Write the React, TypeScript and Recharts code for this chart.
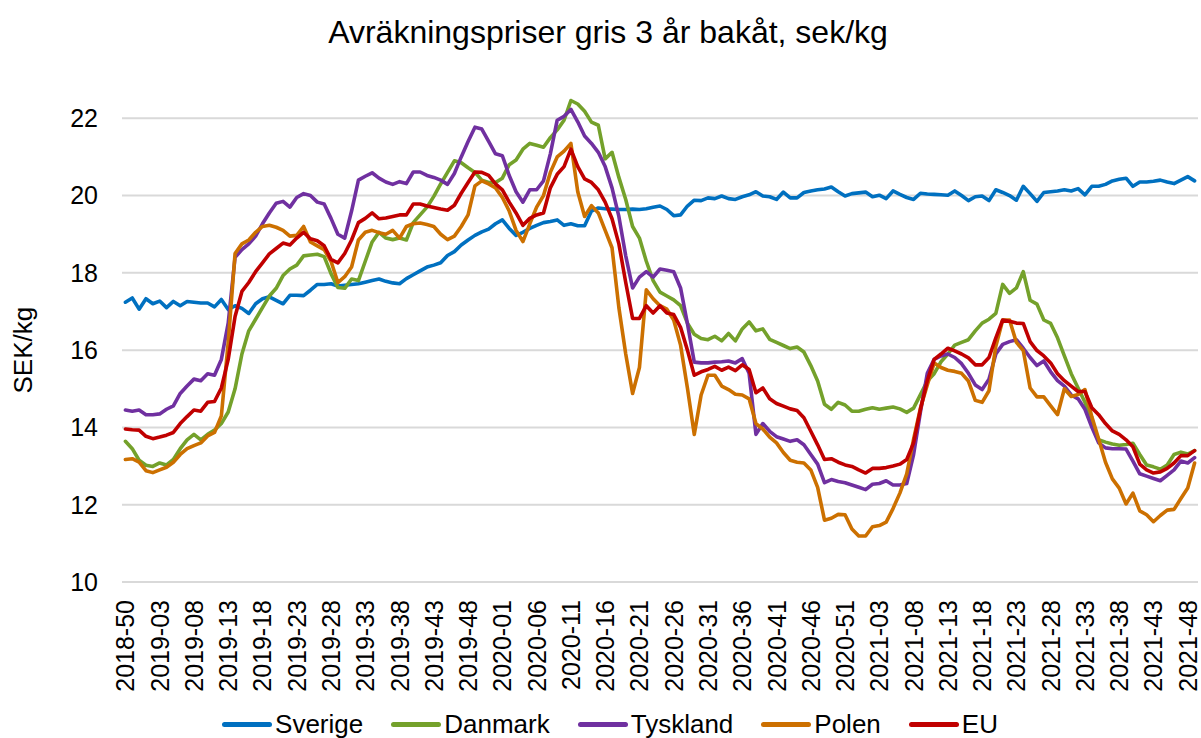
import React from 'react';
import { LineChart, Line, XAxis, YAxis, CartesianGrid } from 'recharts';

// Week categories: [year, first week, last week]
const YEAR_SPANS: number[][] = [
  [2018, 50, 52],
  [2019, 1, 52],
  [2020, 1, 53],
  [2021, 1, 49],
];
const weeks: string[] = YEAR_SPANS.flatMap(([y, a, b]) =>
  Array.from({ length: b - a + 1 }, (_, k) => `${y}-${String(a + k).padStart(2, '0')}`)
);

const yTicks = [10, 12, 14, 16, 18, 20, 22];

const sverige = [
  17.24, 17.35, 17.06, 17.33, 17.2, 17.27, 17.1, 17.26, 17.15, 17.26,
  17.24, 17.22, 17.22, 17.12, 17.31, 17.05, 17.15, 17.08, 16.95, 17.2,
  17.33, 17.38, 17.29, 17.2, 17.42, 17.42, 17.41, 17.55, 17.7, 17.7,
  17.72, 17.66, 17.68, 17.7, 17.72, 17.76, 17.8, 17.84, 17.78, 17.74,
  17.72, 17.85, 17.95, 18.05, 18.15, 18.2, 18.26, 18.45, 18.55, 18.72,
  18.85, 18.97, 19.06, 19.13, 19.27, 19.37, 19.15, 18.97, 19.05, 19.15,
  19.23, 19.3, 19.33, 19.37, 19.23, 19.27, 19.22, 19.22, 19.6, 19.68,
  19.66, 19.65, 19.64, 19.64, 19.65, 19.64, 19.66, 19.7, 19.73, 19.64,
  19.48, 19.5, 19.73, 19.88, 19.87, 19.94, 19.92, 19.99, 19.92, 19.9,
  19.97, 20.02, 20.1, 19.99, 19.97, 19.9, 20.09, 19.94, 19.94, 20.08,
  20.12, 20.15, 20.17, 20.22, 20.1, 19.99, 20.05, 20.07, 20.09, 19.97,
  20.01, 19.92, 20.12, 20.03, 19.95, 19.9, 20.06, 20.04, 20.03, 20.02,
  20.01, 20.12, 20.0, 19.87, 19.97, 19.99, 19.87, 20.15, 20.08, 20.0,
  19.88, 20.24, 20.05, 19.85, 20.08, 20.1, 20.12, 20.15, 20.12, 20.18,
  20.02, 20.24, 20.24, 20.29, 20.38, 20.42, 20.45, 20.24, 20.35, 20.35,
  20.37, 20.4, 20.35, 20.31, 20.4, 20.49, 20.38,
];

const danmark = [
  13.64, 13.45, 13.15, 13.02, 12.99, 13.08, 13.03, 13.17, 13.45, 13.68,
  13.82, 13.68, 13.82, 13.93, 14.1, 14.4, 15.0, 15.9, 16.5, 16.8,
  17.1, 17.4, 17.6, 17.93, 18.1, 18.2, 18.44, 18.46, 18.48, 18.42,
  17.98, 17.62, 17.6, 17.84, 17.8, 18.3, 18.8, 19.05, 18.9, 18.86,
  18.9, 18.85, 19.3, 19.5, 19.7, 19.98, 20.3, 20.6, 20.9, 20.85,
  20.72, 20.6, 20.4, 20.34, 20.34, 20.45, 20.8, 20.92, 21.2, 21.35,
  21.3, 21.25, 21.5, 21.7, 21.95, 22.46, 22.37, 22.18, 21.9, 21.82,
  20.95, 21.12, 20.47, 19.9, 19.2, 18.9, 18.3, 17.8, 17.5, 17.4,
  17.3, 17.15, 16.7, 16.41, 16.3, 16.27, 16.36, 16.24, 16.43, 16.24,
  16.55, 16.73, 16.5, 16.55, 16.28, 16.2, 16.12, 16.04, 16.08, 15.95,
  15.6, 15.2, 14.6, 14.47, 14.65, 14.58, 14.42, 14.42, 14.47, 14.51,
  14.47, 14.5, 14.53, 14.48, 14.39, 14.5, 14.85, 15.2, 15.39, 15.7,
  15.9, 16.13, 16.2, 16.27, 16.5, 16.7, 16.8, 16.95, 17.7, 17.47,
  17.61, 18.03, 17.29, 17.19, 16.78, 16.69, 16.32, 15.85, 15.39, 15.02,
  14.65, 14.1, 13.68, 13.62, 13.57, 13.54, 13.56, 13.59, 13.3, 13.03,
  12.98, 12.92, 13.03, 13.3, 13.36, 13.31, 13.4,
];

const tyskland = [
  14.45, 14.42, 14.45, 14.33, 14.33, 14.35, 14.47, 14.56, 14.88, 15.07,
  15.25, 15.21, 15.39, 15.35, 15.76, 16.7, 18.4, 18.6, 18.75, 18.95,
  19.27, 19.55, 19.8, 19.85, 19.7, 19.95, 20.05, 20.0, 19.83, 19.78,
  19.41, 19.0, 18.9, 19.6, 20.4, 20.5, 20.59, 20.45, 20.35, 20.29,
  20.36, 20.31, 20.61, 20.61, 20.52, 20.47, 20.4, 20.29, 20.57, 21.0,
  21.4, 21.77, 21.72, 21.4, 21.08, 21.03, 20.52, 20.1, 19.83, 20.15,
  20.15, 20.38, 21.08, 21.95, 22.05, 22.23, 21.91, 21.54, 21.35, 21.12,
  20.75, 20.2, 19.46, 18.44, 17.61, 17.89, 18.03, 17.89, 18.1, 18.07,
  18.03, 17.61, 16.69, 15.69, 15.67, 15.67, 15.69, 15.7, 15.72, 15.67,
  15.78, 15.4, 13.82, 14.1, 13.9, 13.76, 13.7, 13.64, 13.68, 13.55,
  13.3, 13.05, 12.57, 12.65, 12.6, 12.57, 12.51, 12.45, 12.39, 12.53,
  12.55, 12.62, 12.51, 12.51, 12.55, 13.3, 14.4, 15.4, 15.76, 15.85,
  15.9, 15.81, 15.65, 15.4, 15.1, 14.98, 15.25, 15.9, 16.15, 16.22,
  16.27, 16.05, 15.81, 15.6, 15.72, 15.44, 15.21, 15.07, 14.84, 14.74,
  14.47, 14.01, 13.6, 13.47, 13.45, 13.45, 13.44, 13.13, 12.8, 12.74,
  12.68, 12.62, 12.76, 12.9, 13.13, 13.08, 13.22,
];

const polen = [
  13.17, 13.19, 13.1, 12.88, 12.83, 12.9, 12.97, 13.1, 13.3, 13.45,
  13.53, 13.6, 13.78, 13.87, 14.3, 16.2, 18.5, 18.75, 18.85, 19.05,
  19.2, 19.23, 19.18, 19.1, 18.95, 18.97, 19.2, 18.8, 18.7, 18.6,
  18.3, 17.75, 17.9, 18.15, 18.85, 19.05, 19.1, 19.04, 19.0, 19.1,
  18.9, 19.2, 19.27, 19.29, 19.25, 19.2, 19.0, 18.86, 18.95, 19.2,
  19.5, 20.25, 20.38, 20.3, 20.2, 19.95, 19.6, 19.1, 18.81, 19.27,
  19.7, 20.0, 20.6, 21.0, 21.15, 21.35, 20.1, 19.46, 19.74, 19.55,
  19.1, 18.65, 17.1, 15.9, 14.88, 15.55, 17.56, 17.33, 17.15, 17.06,
  16.78, 16.13, 15.02, 13.82, 14.84, 15.35, 15.35, 15.07, 14.98, 14.86,
  14.84, 14.74, 14.1, 13.96, 13.75, 13.6, 13.35, 13.15, 13.1, 13.08,
  12.9, 12.45, 11.6, 11.65, 11.75, 11.74, 11.37, 11.19, 11.19, 11.43,
  11.46, 11.55, 11.9, 12.3, 12.8, 13.7, 14.5, 15.1, 15.67, 15.55,
  15.48, 15.45, 15.4, 15.2, 14.7, 14.65, 14.95, 16.1, 16.78, 16.78,
  16.2, 15.99, 15.02, 14.79, 14.79, 14.56, 14.33, 15.0, 14.8, 14.85,
  14.98, 14.28, 13.7, 13.1, 12.67, 12.43, 12.02, 12.3, 11.84, 11.74,
  11.56, 11.72, 11.86, 11.88, 12.16, 12.43, 13.08,
];

const eu = [
  13.96, 13.94, 13.93, 13.77, 13.71, 13.75, 13.8, 13.87, 14.1, 14.28,
  14.45, 14.42, 14.65, 14.67, 15.02, 15.76, 16.87, 17.52, 17.75, 18.03,
  18.26, 18.49, 18.63, 18.77, 18.72, 18.9, 19.05, 18.88, 18.83, 18.7,
  18.35, 18.26, 18.5, 18.85, 19.3, 19.41, 19.55, 19.4, 19.42, 19.46,
  19.5, 19.5, 19.78, 19.78, 19.73, 19.69, 19.65, 19.62, 19.75, 20.06,
  20.34, 20.61, 20.6, 20.52, 20.3, 20.15, 19.83, 19.55, 19.23, 19.41,
  19.5, 19.55, 20.2, 20.55, 20.75, 21.2, 20.75, 20.43, 20.34, 20.15,
  19.83, 19.4, 18.75, 17.75, 16.82, 16.82, 17.15, 16.96, 17.15, 16.96,
  16.92, 16.59, 16.0, 15.35, 15.44, 15.5, 15.58, 15.48, 15.56, 15.47,
  15.62, 15.5, 14.9, 15.02, 14.74, 14.62, 14.55, 14.48, 14.44, 14.25,
  13.9, 13.55, 13.17, 13.19, 13.1, 13.03, 12.99, 12.9, 12.82, 12.94,
  12.94, 12.96, 13.0, 13.05, 13.17, 13.6, 14.47, 15.21, 15.76, 15.9,
  16.05, 15.98, 15.9, 15.8, 15.62, 15.62, 15.81, 16.32, 16.78, 16.75,
  16.7, 16.69, 16.22, 15.99, 15.85, 15.67, 15.39, 15.21, 15.07, 14.93,
  14.93, 14.51, 14.33, 14.1, 13.91, 13.82, 13.68, 13.5, 13.05, 12.9,
  12.82, 12.85, 12.94, 13.08, 13.27, 13.27, 13.4,
];

const seriesNames = ['Sverige', 'Danmark', 'Tyskland', 'Polen', 'EU'];
const seriesValues = [sverige, danmark, tyskland, polen, eu];
const seriesColors = ['#0070C0', '#74A12B', '#7030A0', '#CC7000', '#C00000'];

const data = weeks.map((w, i) => {
  const row: Record<string, string | number> = { week: w };
  seriesNames.forEach((n, s) => {
    row[n] = seriesValues[s][i];
  });
  return row;
});

const FONT = '"Liberation Sans", Arial, Helvetica, sans-serif';
const TEXT = '#000000';

function XTick(props: any) {
  const { x, y, payload } = props;
  return (
    <text
      x={x}
      y={y}
      transform={`rotate(-90 ${x} ${y})`}
      textAnchor="end"
      dominantBaseline="central"
      fontSize={25}
      fontFamily={FONT}
      fill={TEXT}
    >
      {payload.value}
    </text>
  );
}

function YLabel(props: any) {
  const vb = props.viewBox || {};
  const cx = (vb.x || 0) + 23;
  const cy = (vb.y || 0) + (vb.height || 0) * (8 / 14);
  return (
    <text
      x={cx}
      y={cy}
      transform={`rotate(-90 ${cx} ${cy})`}
      textAnchor="middle"
      dominantBaseline="central"
      fontSize={26}
      fontFamily={FONT}
      fill={TEXT}
    >
      SEK/kg
    </text>
  );
}

export default function App() {
  return (
    <div
      style={{
        position: 'absolute',
        left: 0,
        top: 0,
        width: 1201,
        height: 738,
        background: '#ffffff',
        fontFamily: FONT,
        overflow: 'hidden',
      }}
    >
      <LineChart
        width={1201}
        height={738}
        data={data}
        margin={{ top: 41, right: 3, bottom: 0, left: 0 }}
      >
        <CartesianGrid
          vertical={false}
          horizontalValues={yTicks}
          stroke="#d9d9d9"
          strokeWidth={2}
        />
        <XAxis
          dataKey="week"
          interval={4}
          height={156}
          padding={{ left: 3.4, right: 3.4 }}
          axisLine={false}
          tickLine={false}
          tickSize={0}
          tickMargin={18}
          tick={<XTick />}
        />
        <YAxis
          type="number"
          domain={[10, 24]}
          ticks={yTicks}
          width={122}
          axisLine={false}
          tickLine={false}
          tickSize={0}
          tickMargin={24}
          tick={{ fontSize: 25, fill: TEXT, fontFamily: FONT }}
          label={<YLabel />}
        />
        {seriesNames.map((n, s) => (
          <Line
            key={n}
            type="linear"
            dataKey={n}
            stroke={seriesColors[s]}
            strokeWidth={3.6}
            strokeLinejoin="round"
            strokeLinecap="round"
            dot={false}
            activeDot={false}
            isAnimationActive={false}
          />
        ))}
      </LineChart>
      <div
        style={{
          position: 'absolute',
          left: 0,
          top: 14,
          width: 1216,
          textAlign: 'center',
          fontSize: 32,
          lineHeight: '36px',
          color: TEXT,
          pointerEvents: 'none',
        }}
      >
        Avräkningspriser gris 3 år bakåt, sek/kg
      </div>
      <div
        style={{
          position: 'absolute',
          left: 0,
          top: 710,
          width: 1220,
          display: 'flex',
          justifyContent: 'center',
          alignItems: 'center',
          fontSize: 26,
          lineHeight: '28px',
          color: TEXT,
        }}
      >
        {seriesNames.map((n, s) => (
          <div
            key={n}
            style={{
              display: 'flex',
              alignItems: 'center',
              marginRight: s < seriesNames.length - 1 ? 28 : 0,
            }}
          >
            <div
              style={{
                width: 50,
                height: 5,
                borderRadius: 2.5,
                background: seriesColors[s],
                marginRight: 3,
              }}
            />
            <span>{n}</span>
          </div>
        ))}
      </div>
    </div>
  );
}
